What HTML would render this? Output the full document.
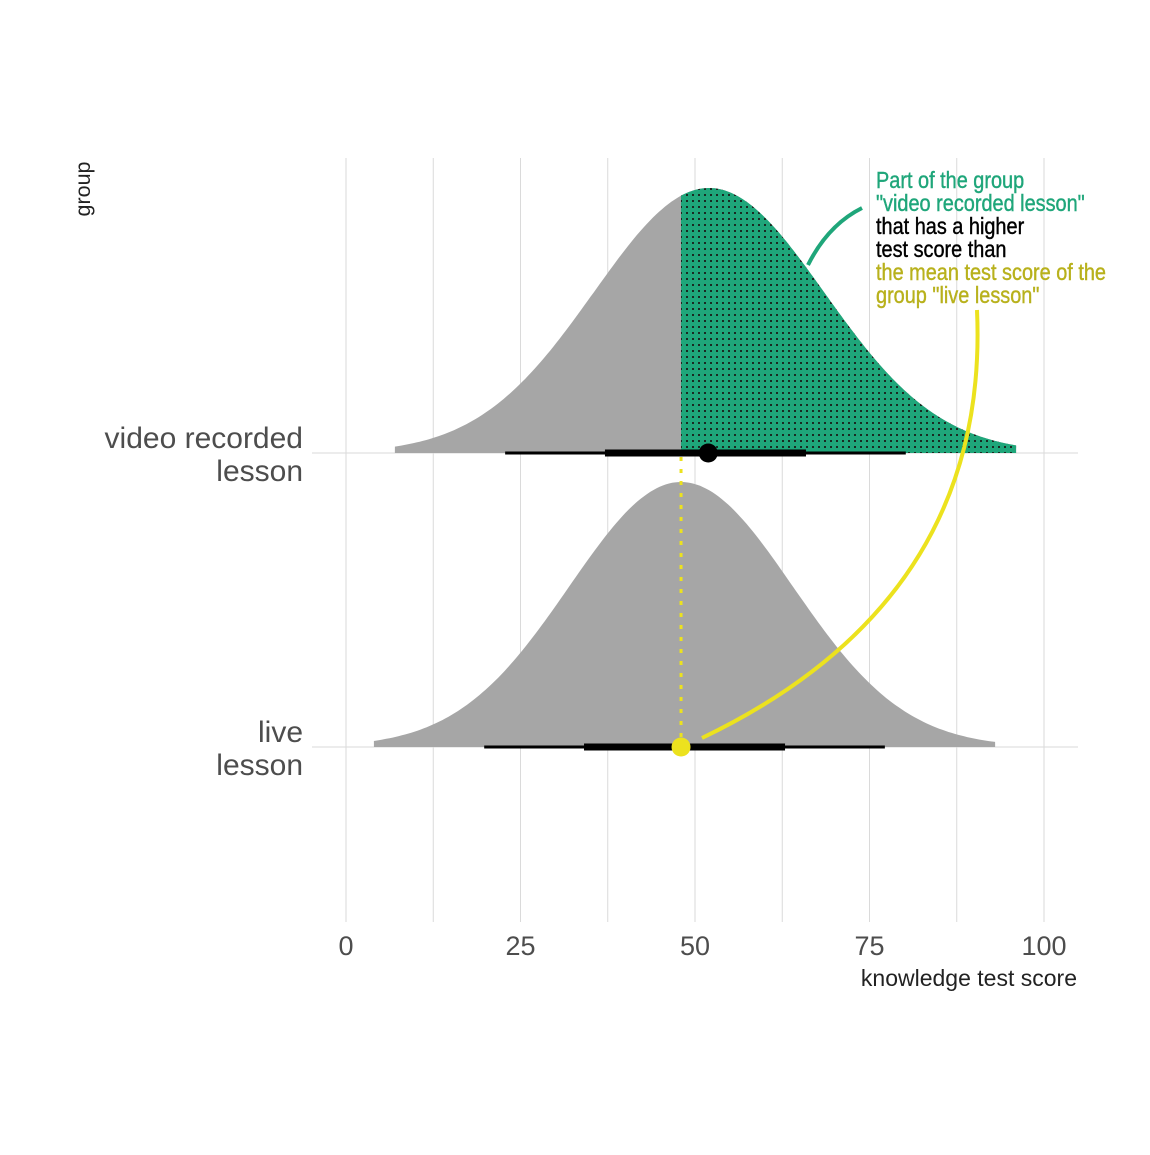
<!DOCTYPE html>
<html><head><meta charset="utf-8"><style>
html,body{margin:0;padding:0;background:#fff}
svg text{font-family:"Liberation Sans",sans-serif}
.ann{font-family:"Liberation Sans",sans-serif;font-size:23px;stroke-width:0.4px}
</style></head><body>
<svg id="c" width="1150" height="1150" viewBox="0 0 1150 1150" xmlns="http://www.w3.org/2000/svg">
<defs>
<pattern id="dots" width="6" height="6" patternUnits="userSpaceOnUse">
<rect width="6" height="6" fill="#1fa67a"/><rect x="2" y="2" width="2" height="2" fill="#1a2a22"/>
</pattern>
</defs>
<g id="grid"></g>
<g id="marks"></g>
<g id="labels"></g>
<text x="90" y="189" font-size="21.5" fill="#222" transform="rotate(-90 90 189)" text-anchor="middle">group</text>
<text x="1077" y="986" font-size="23" fill="#222" text-anchor="end">knowledge test score</text>
<g class="ann" transform="translate(876 0) scale(0.865 1)">
<text x="0" y="188" fill="#1fa67a" stroke="#1fa67a">Part of the group</text>
<text x="0" y="211" fill="#1fa67a" stroke="#1fa67a">"video recorded lesson"</text>
<text x="0" y="234" fill="#000" stroke="#000">that has a higher</text>
<text x="0" y="257" fill="#000" stroke="#000">test score than</text>
<text x="0" y="280" fill="#b8b11c" stroke="#b8b11c">the mean test score of the</text>
<text x="0" y="303" fill="#b8b11c" stroke="#b8b11c">group "live lesson"</text>
</g>
<path d="M808,265 Q828,225 862,208" fill="none" stroke="#1fa67a" stroke-width="4"/>
<path d="M702,738 Q990,600 977,310" fill="none" stroke="#ece21e" stroke-width="4"/>
</svg>
<script>
const groups=["video recorded lesson","live lesson"];
const groupLabels=[["video recorded","lesson"],["live","lesson"]];
const means=[52,48];
const sds=[16.5,16];
const ranges=[[7,96],[4,93]];
const thinIntervals=[[22.8,80.2],[19.8,77.2]];
const thickIntervals=[[37.1,65.9],[34.1,62.9]];
const points=[51.9,48];
const threshold=48;
const xTicks=[0,25,50,75,100];
const minorTicks=[12.5,37.5,62.5,87.5];

const NS="http://www.w3.org/2000/svg";
const x=v=>346+v*6.98;
const baseY=[453,747];
const H=265;
function mk(tag,attrs,parent){const e=document.createElementNS(NS,tag);for(const k in attrs)e.setAttribute(k,attrs[k]);parent.appendChild(e);return e;}
const grid=document.getElementById('grid'),marks=document.getElementById('marks'),labels=document.getElementById('labels');
xTicks.concat(minorTicks).forEach(t=>{const l=mk('line',{x1:x(t),x2:x(t),y1:158,y2:922,stroke:'#dadada','stroke-width':1},grid);

});
baseY.forEach(b=>{const l=mk('line',{x1:312,x2:1078,y1:b,y2:b,stroke:'#dadada','stroke-width':1},grid);

});
xTicks.forEach(t=>{const tx=mk('text',{x:x(t),y:955,'font-size':27,fill:'#4d4d4d','text-anchor':'middle'},labels);tx.textContent=t;

});
groupLabels.forEach((g,i)=>{g.forEach((s,j)=>{const tx=mk('text',{x:303,y:baseY[i]-5+j*33,'font-size':30,fill:'#4d4d4d','text-anchor':'end'},labels);tx.textContent=s;

});});
function dens(i,v){return Math.exp(-0.5*((v-means[i])/sds[i])**2);}
function areaPath(i,a,b){let d=`M${x(a)},${baseY[i]}`;for(let k=0;k<=200;k++){const v=a+(b-a)*k/200;d+=` L${x(v).toFixed(1)},${(baseY[i]-H*dens(i,v)).toFixed(1)}`;}return d+` L${x(b)},${baseY[i]} Z`;}
groups.forEach((g,i)=>{
const p=mk('path',{d:areaPath(i,ranges[i][0],ranges[i][1]),fill:'#a6a6a6'},marks);


if(i===0){const s=mk('path',{d:areaPath(0,threshold,ranges[0][1]),fill:'url(#dots)'},marks);

}
});
const vl=mk('line',{x1:x(threshold),x2:x(threshold),y1:baseY[0]+4,y2:baseY[1],stroke:'#ece21e','stroke-width':3,'stroke-dasharray':'4 8'},marks);


groups.forEach((g,i)=>{
const t=mk('line',{x1:x(thinIntervals[i][0]),x2:x(thinIntervals[i][1]),y1:baseY[i],y2:baseY[i],stroke:'#000','stroke-width':3},marks);


const k=mk('line',{x1:x(thickIntervals[i][0]),x2:x(thickIntervals[i][1]),y1:baseY[i],y2:baseY[i],stroke:'#000','stroke-width':7},marks);


const c=mk('circle',{cx:x(points[i]),cy:baseY[i],r:9.5,fill:i?'#ece21e':'#000'},marks);


});
</script>
</body></html>
